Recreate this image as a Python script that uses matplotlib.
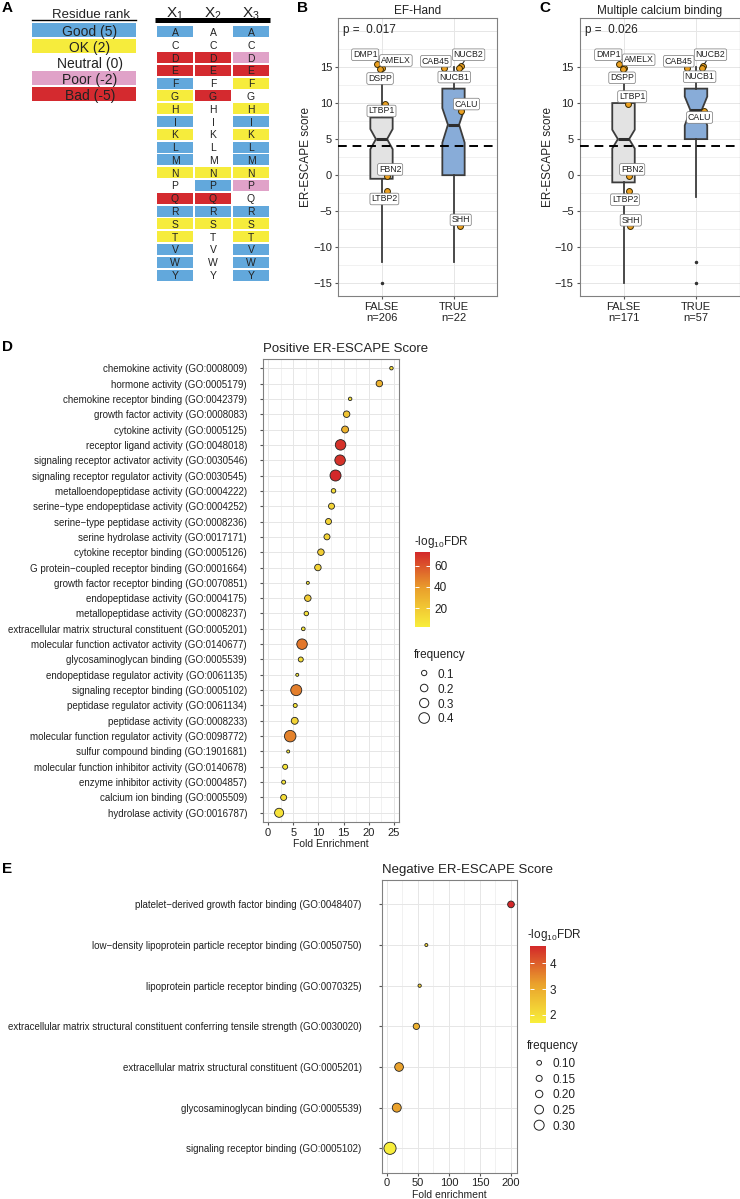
import numpy as np
import matplotlib
matplotlib.use('Agg')
import matplotlib.pyplot as plt
from matplotlib.colors import LinearSegmentedColormap, Normalize
from matplotlib.cm import ScalarMappable

plt.rcParams['font.family'] = ['Liberation Sans', 'DejaVu Sans']
plt.rcParams['mathtext.fontset'] = 'custom'
plt.rcParams['mathtext.rm'] = 'Liberation Sans'
plt.rcParams['mathtext.it'] = 'Liberation Sans:italic'
plt.rcParams['mathtext.bf'] = 'Liberation Sans:bold'
plt.rcParams['mathtext.default'] = 'rm'

# ------------------------------------------------------------------ data
rank_keys = ['Good', 'OK', 'Neutral', 'Poor', 'Bad']
rank_labels = ['Good (5)', 'OK (2)', 'Neutral (0)', 'Poor (-2)', 'Bad (-5)']
residues = list('ACDEFGHIKLMNPQRSTVWY')
rank_x1 = ['Good', 'Neutral', 'Bad', 'Bad', 'Good', 'OK', 'OK', 'Good', 'OK', 'Good',
           'Good', 'OK', 'Neutral', 'Bad', 'Good', 'OK', 'OK', 'Good', 'Good', 'Good']
rank_x2 = ['Neutral', 'Neutral', 'Bad', 'Bad', 'Neutral', 'Bad', 'Neutral', 'Neutral', 'Neutral', 'Neutral',
           'Neutral', 'OK', 'Good', 'Bad', 'Good', 'OK', 'Neutral', 'Neutral', 'Neutral', 'Neutral']
rank_x3 = ['Good', 'Neutral', 'Poor', 'Bad', 'OK', 'Neutral', 'OK', 'Good', 'OK', 'Good',
           'Good', 'OK', 'Poor', 'Neutral', 'Good', 'OK', 'OK', 'Good', 'Good', 'Good']

groups = ['FALSE', 'TRUE']
# EF-Hand box statistics
ef_n = [206, 22]
ef_q1 = [-0.5, 0.0]
ef_med = [5.0, 7.0]
ef_q3 = [8.0, 12.0]
ef_lo = [-12.0, -12.0]
ef_hi = [15.0, 15.0]
ef_cilo = [3.6, 4.5]
ef_cihi = [6.4, 9.3]
ef_fliers = [[-15.0], []]
ef_p = '0.017'
# Multiple calcium binding box statistics
mc_n = [171, 57]
mc_q1 = [-1.0, 5.0]
mc_med = [5.0, 9.0]
mc_q3 = [10.0, 12.0]
mc_lo = [-15.0, -3.0]
mc_hi = [15.0, 15.0]
mc_cilo = [3.7, 6.9]
mc_cihi = [6.3, 10.9]
mc_fliers = [[], [-12.0, -15.0]]
mc_p = '0.026'

genes = ['DMP1', 'AMELX', 'DSPP', 'LTBP1', 'FBN2', 'LTBP2', 'CAB45', 'NUCB2', 'NUCB1', 'CALU', 'SHH']
gene_score = [15.4, 14.8, 14.7, 9.9, -0.1, -2.2, 14.8, 15.1, 14.9, 8.9, -7.1]
gene_ef_hand = [0, 0, 0, 0, 0, 0, 1, 1, 1, 1, 1]
gene_multi_ca = [0, 0, 0, 0, 0, 0, 1, 1, 1, 1, 0]

pos_terms = ['chemokine activity (GO:0008009)', 'hormone activity (GO:0005179)',
             'chemokine receptor binding (GO:0042379)', 'growth factor activity (GO:0008083)',
             'cytokine activity (GO:0005125)', 'receptor ligand activity (GO:0048018)',
             'signaling receptor activator activity (GO:0030546)',
             'signaling receptor regulator activity (GO:0030545)',
             'metalloendopeptidase activity (GO:0004222)',
             'serine\u2212type endopeptidase activity (GO:0004252)',
             'serine\u2212type peptidase activity (GO:0008236)',
             'serine hydrolase activity (GO:0017171)', 'cytokine receptor binding (GO:0005126)',
             'G protein\u2212coupled receptor binding (GO:0001664)',
             'growth factor receptor binding (GO:0070851)', 'endopeptidase activity (GO:0004175)',
             'metallopeptidase activity (GO:0008237)',
             'extracellular matrix structural constituent (GO:0005201)',
             'molecular function activator activity (GO:0140677)',
             'glycosaminoglycan binding (GO:0005539)',
             'endopeptidase regulator activity (GO:0061135)',
             'signaling receptor binding (GO:0005102)', 'peptidase regulator activity (GO:0061134)',
             'peptidase activity (GO:0008233)', 'molecular function regulator activity (GO:0098772)',
             'sulfur compound binding (GO:1901681)',
             'molecular function inhibitor activity (GO:0140678)',
             'enzyme inhibitor activity (GO:0004857)', 'calcium ion binding (GO:0005509)',
             'hydrolase activity (GO:0016787)']
pos_fold = [24.5, 22.1, 16.3, 15.6, 15.3, 14.4, 14.3, 13.4, 13.0, 12.6, 12.0, 11.7, 10.5, 9.9, 7.9,
            7.9, 7.6, 7.0, 6.75, 6.5, 5.8, 5.6, 5.4, 5.3, 4.4, 4.0, 3.4, 3.1, 3.1, 2.2]
pos_freq = [0.043, 0.15, 0.043, 0.15, 0.17, 0.39, 0.39, 0.43, 0.072, 0.128, 0.128, 0.128, 0.15, 0.15,
            0.032, 0.15, 0.072, 0.048, 0.39, 0.089, 0.032, 0.43, 0.057, 0.17, 0.47, 0.032, 0.089,
            0.057, 0.128, 0.29]
pos_fdr = [10, 30, 8, 22, 30, 70, 70, 73, 10, 15, 15, 15, 17, 15, 5, 18, 8, 5, 50, 10, 4, 48, 6, 15,
           47, 2.2, 6, 5, 10, 8]

neg_terms = ['platelet\u2212derived growth factor binding (GO:0048407)',
             'low\u2212density lipoprotein particle receptor binding (GO:0050750)',
             'lipoprotein particle receptor binding (GO:0070325)',
             'extracellular matrix structural constituent conferring tensile strength (GO:0030020)',
             'extracellular matrix structural constituent (GO:0005201)',
             'glycosaminoglycan binding (GO:0005539)',
             'signaling receptor binding (GO:0005102)']
neg_fold = [200, 63.5, 52.7, 47.4, 19.5, 15.8, 4.9]
neg_freq = [0.175, 0.036, 0.047, 0.16, 0.25, 0.26, 0.38]
neg_fdr = [4.68, 2.2, 2.3, 2.9, 3.2, 3.2, 1.7]

pos_size_breaks = [0.1, 0.2, 0.3, 0.4]
neg_size_breaks = [0.10, 0.15, 0.20, 0.25, 0.30]
pos_fdr_breaks = [20, 40, 60]
neg_fdr_breaks = [2, 3, 4]

# ------------------------------------------------------------------ style
W, H = 740, 1199
fig = plt.figure(figsize=(W / 100, H / 100), dpi=100)
RANK_COLORS = {'Good': '#62A8DC', 'OK': '#F6EC3C', 'Neutral': '#FFFFFF',
               'Poor': '#E0A2C8', 'Bad': '#D42A2F'}
GRID = '#E6E6E6'
BORDER = '#808080'
TXT = '#222222'
cmap = LinearSegmentedColormap.from_list('fdr', ['#F8EE3B', '#EAA22C', '#D3282A'])


def px_axes(x0, y0, x1, y1):
    return fig.add_axes([x0 / W, 1 - y1 / H, (x1 - x0) / W, (y1 - y0) / H])


def ftext(x, y, s, **kw):
    return fig.text(x / W, 1 - y / H, s, **kw)


for lab, (x, y) in zip('ABCDE', [(2, 8), (297, 8), (539, 8), (2, 347), (2, 869)]):
    ftext(x, y, lab, fontsize=11, fontweight='bold', ha='left', va='center')

# ------------------------------------------------------------------ panel A
axl = px_axes(32, 22, 136, 102)
for i, k in enumerate(rank_keys):
    axl.barh(i, 1, left=0, height=0.875, color=RANK_COLORS[k], lw=0)
    axl.text(0.555, i + 0.02, rank_labels[i], ha='center', va='center_baseline', fontsize=10,
             color=TXT)
axl.set_xlim(0, 1)
axl.set_ylim(4.5, -0.5)
axl.axis('off')
axl.text(0.57, -1.05, 'Residue rank', ha='center', va='center_baseline', fontsize=9.5, color=TXT)
axl.plot([0, 1], [-0.62, -0.62], color='k', lw=1.0, clip_on=False)

axr = px_axes(156, 25.6, 270, 281.4)
for c, col in enumerate([rank_x1, rank_x2, rank_x3]):
    for r, res in enumerate(residues):
        axr.bar(c, 0.86, bottom=r - 0.43, width=0.95, color=RANK_COLORS[col[r]], lw=0)
        axr.text(c, r, res, ha='center', va='center_baseline', fontsize=7.5, color=TXT)
    axr.text(c, -1.45, 'X$_{%d}$' % (c + 1), ha='center', va='center', fontsize=11, color=TXT)
axr.plot([-0.53, 2.5], [-0.94, -0.94], color='k', lw=3.6, clip_on=False, solid_capstyle='butt')
axr.set_xlim(-0.5, 2.5)
axr.set_ylim(19.5, -0.5)
axr.axis('off')


# ------------------------------------------------------------------ panels B, C
def box_panel(box, title, n, q1, med, q3, lo, hi, cilo, cihi, fliers, p, member, jit, lab_xy):
    ax = px_axes(*box)
    stats = []
    for i in range(2):
        stats.append(dict(med=med[i], q1=q1[i], q3=q3[i], whislo=lo[i], whishi=hi[i],
                          cilo=cilo[i], cihi=cihi[i], fliers=fliers[i], label=groups[i]))
    bp = ax.bxp(stats, positions=[1, 2], widths=0.31, shownotches=True, patch_artist=True,
                showcaps=False,
                boxprops=dict(lw=1.3, edgecolor='#3c3c3c'),
                whiskerprops=dict(lw=1.3, color='#3c3c3c'),
                medianprops=dict(lw=2.2, color='#2e2e2e'),
                flierprops=dict(marker='o', markersize=1.5, markerfacecolor='#333333',
                                markeredgecolor='#333333'))
    for patch, fc in zip(bp['boxes'], ['#E3E3E3', '#88ACD8']):
        patch.set_facecolor(fc)
    ax.axhline(4, color='k', lw=1.4, ls=(0, (4.5, 3)), zorder=4)
    xs, ys = [], []
    for s, m, j in zip(gene_score, member, jit):
        xs.append(1 + m + j)
        ys.append(s)
    ax.scatter(xs, ys, s=18, facecolor='#EBA021', edgecolor='#3a2a00', lw=0.7, zorder=5)
    for g, px_, py_, (lx, ly) in zip(genes, xs, ys, lab_xy):
        seg = dict(arrowstyle='-', color='#222222', lw=0.7, shrinkA=0, shrinkB=2) \
            if g == 'NUCB2' else None
        ax.annotate(g, xy=(px_, py_), xytext=(lx, ly), fontsize=6.3, ha='center', va='center',
                    color=TXT, zorder=6, arrowprops=seg,
                    bbox=dict(boxstyle='round,pad=0.15,rounding_size=0.2', fc='white',
                              ec='#777777', lw=0.5))
    ax.text(0.47, 20.1, 'p =  ' + p, fontsize=8.5, ha='left', va='center', color=TXT)
    ax.set_xlim(0.4, 2.6)
    ax.set_ylim(-16.75, 21.75)
    ax.set_yticks([-15, -10, -5, 0, 5, 10, 15])
    ax.set_yticks(np.arange(-12.5, 21, 5), minor=True)
    ax.set_xticks([1, 2])
    ax.set_xticklabels(['%s\nn=%d' % (groups[i], n[i]) for i in range(2)], linespacing=1.15)
    ax.grid(True, which='major', color=GRID, lw=0.7, zorder=0)
    ax.grid(True, which='minor', axis='y', color=GRID, lw=0.4, zorder=0)
    ax.set_axisbelow(True)
    ax.axhline(20, color=GRID, lw=0.7, zorder=0)
    ax.tick_params(axis='both', which='major', labelsize=8, length=2.5, color='#555555',
                   labelcolor=TXT, pad=2)
    ax.tick_params(axis='y', which='minor', length=0)
    for sp in ax.spines.values():
        sp.set_color(BORDER)
        sp.set_linewidth(0.8)
    ax.set_ylabel('ER-ESCAPE score', fontsize=8.5, color=TXT, labelpad=0.5)
    ax.set_title(title, fontsize=8.5, color=TXT, pad=3)
    return ax


box_panel((338.3, 18.3, 496.7, 296), 'EF-Hand', ef_n, ef_q1, ef_med, ef_q3, ef_lo,
          ef_hi, ef_cilo, ef_cihi, ef_fliers, ef_p, gene_ef_hand,
          [-0.065, 0.005, -0.02, 0.055, 0.074, 0.074, -0.13, 0.10, 0.08, 0.11, 0.09],
          [(0.773, 16.7), (1.2, 15.9), (0.98, 13.4), (1.0, 8.9), (1.12, 0.8), (1.04, -3.3),
           (1.755, 15.8), (2.21, 16.7), (2.01, 13.6), (2.18, 9.86), (2.1, -6.2)])
box_panel((580, 18.3, 739.5, 296), 'Multiple calcium binding', mc_n, mc_q1, mc_med,
          mc_q3, mc_lo, mc_hi, mc_cilo, mc_cihi, mc_fliers, mc_p, gene_multi_ca,
          [-0.06, 0.0, -0.01, 0.064, 0.073, 0.073, -0.126, 0.094, 0.08, 0.11, 0.087],
          [(0.79, 16.7), (1.21, 16.0), (0.98, 13.5), (1.12, 10.9), (1.12, 0.8), (1.02, -3.4),
           (1.763, 15.8), (2.2, 16.7), (2.05, 13.65), (2.05, 8.0), (1.1, -6.25)])


# ------------------------------------------------------------------ panels D, E
def pos_size(f):
    return (16.8 * np.sqrt(np.asarray(f)) * 0.72) ** 2


def neg_size(f):
    return ((4.7 + 26.5 * (np.asarray(f) - 0.1)) * 0.72) ** 2


def dot_panel(box, terms, fold, freq, fdr, sizefn, xlim, xticks, xminor, title, xlabel, lpad):
    ax = px_axes(*box)
    y = np.arange(len(terms))
    norm = Normalize(min(fdr), max(fdr))
    ax.scatter(fold, y, s=sizefn(freq), c=fdr, cmap=cmap, norm=norm, edgecolor='#222222',
               lw=0.6, zorder=3)
    ax.set_yticks(y)
    ax.set_yticklabels(terms, fontsize=7.0, color=TXT)
    ax.set_ylim(len(terms) - 0.4, -0.6)
    ax.set_xlim(*xlim)
    ax.set_xticks(xticks)
    ax.set_xticks(xminor, minor=True)
    ax.grid(True, which='major', color=GRID, lw=0.7, zorder=0)
    ax.grid(True, which='minor', axis='x', color=GRID, lw=0.4, zorder=0)
    ax.set_axisbelow(True)
    ax.tick_params(axis='x', which='major', labelsize=8, length=2.5, color='#555555',
                   labelcolor=TXT, pad=1.5)
    ax.tick_params(axis='y', which='major', length=2.5, color='#555555', pad=lpad)
    ax.tick_params(which='minor', length=0)
    for sp in ax.spines.values():
        sp.set_color(BORDER)
        sp.set_linewidth(0.8)
    ax.set_xlabel(xlabel, fontsize=7.5, color=TXT, labelpad=1)
    ax.set_title(title, fontsize=9.5, color=TXT, loc='left', pad=5)
    return ax, norm


_, pos_norm = dot_panel((263, 359, 399, 822), pos_terms, pos_fold, pos_freq, pos_fdr, pos_size,
                        (-1.0, 26.0), np.arange(0, 26, 5), np.arange(2.5, 26, 5),
                        'Positive ER-ESCAPE Score', 'Fold Enrichment', 9)
_, neg_norm = dot_panel((381.7, 880, 516.7, 1172.7), neg_terms, neg_fold, neg_freq, neg_fdr,
                        neg_size, (-8.5, 209.2), np.arange(0, 201, 50), np.arange(25, 210, 50),
                        'Negative ER-ESCAPE Score', 'Fold enrichment', 12)


def colorbar(box, norm, ticks, title_xy):
    cax = px_axes(*box)
    cb = fig.colorbar(ScalarMappable(norm=norm, cmap=cmap), cax=cax, ticks=ticks)
    cb.outline.set_visible(False)
    cax.tick_params(axis='y', length=3, width=0.7, color='white', direction='in',
                    labelsize=8.5, labelcolor=TXT, pad=3, left=True, right=True)
    ftext(title_xy[0], title_xy[1], '-log$_{10}$FDR', fontsize=8.5, color=TXT,
          ha='left', va='center')


colorbar((415, 552, 430, 627), pos_norm, pos_fdr_breaks, (414, 542))
colorbar((530, 945.7, 545.7, 1022.7), neg_norm, neg_fdr_breaks, (527, 935))


def size_legend(box, breaks, sizefn, fmt, title_xy):
    ax = px_axes(*box)
    yy = np.arange(len(breaks))
    ax.scatter(np.zeros(len(breaks)), yy, s=sizefn(breaks), facecolor='white',
               edgecolor='#222222', lw=0.7)
    for y, b in zip(yy, breaks):
        ax.text(0.9, y, fmt % b, fontsize=8.5, color=TXT, ha='left', va='center_baseline')
    ax.set_xlim(-0.6, 3)
    ax.set_ylim(len(breaks) - 0.5, -0.5)
    ax.axis('off')
    ftext(title_xy[0], title_xy[1], 'frequency', fontsize=8.5, color=TXT, ha='left', va='center')


size_legend((415, 665.5, 470, 725.5), pos_size_breaks, pos_size, '%.1f', (414, 655))
size_legend((530, 1055, 585, 1133), neg_size_breaks, neg_size, '%.2f', (527, 1046))

fig.savefig('out.png', dpi=100)
